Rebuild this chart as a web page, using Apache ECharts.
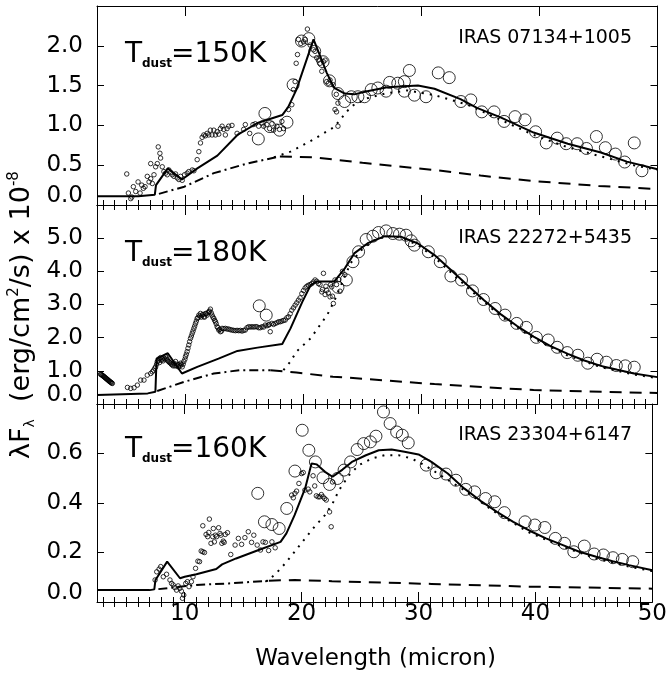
<!DOCTYPE html>
<html><head><meta charset="utf-8">
<script src="https://cdn.jsdelivr.net/npm/echarts@6/dist/echarts.min.js"></script>
<style>html,body{margin:0;padding:0;background:#fff}#c{width:670px;height:677px}</style>
</head><body><div id="c"></div>
<script>
// ---------- axis ticks ----------
const majorX = [10, 20, 30, 40, 50];
const minorX = [3,4,5,6,7,8,9,11,12,13,14,15,16,17,18,19,21,22,23,24,25,26,27,28,29,31,32,33,34,35,36,37,38,39,41,42,43,44,45,46,47,48,49];
const panelTitles = ['150K', '180K', '160K'];
const panelNames = ['IRAS 07134+1005', 'IRAS 22272+5435', 'IRAS 23304+6147'];
const yMax = [2.5, 6, 0.8];
const yStep = [0.5, 1, 0.2];

// ---------- panel 1 : IRAS 07134+1005 ----------
const p1Small = [[5.02,0.39],[5.16,0.15],[5.36,0.08],[5.45,0.10],[5.58,0.23],[5.78,0.17],[5.98,0.29],[6.15,0.15],[6.29,0.25],[6.43,0.21],[6.57,0.23],[6.76,0.36],[6.91,0.29],[7.05,0.33],[7.05,0.52],[7.19,0.27],[7.33,0.38],[7.47,0.48],[7.61,0.52],[7.69,0.73],[7.83,0.65],[7.89,0.59],[8.03,0.48],[8.17,0.42],[8.31,0.40],[8.45,0.38],[8.59,0.44],[8.74,0.41],[8.88,0.38],[9.02,0.36],[9.16,0.39],[9.30,0.34],[9.44,0.32],[9.58,0.36],[9.72,0.31],[9.92,0.38],[10.14,0.40],[10.28,0.42],[10.57,0.44],[10.71,0.43],[10.99,0.57],[11.13,0.67],[11.27,0.78],[11.41,0.85],[11.55,0.88],[11.69,0.87],[11.83,0.90],[11.97,0.88],[12.11,0.94],[12.25,0.88],[12.40,0.94],[12.54,0.88],[12.68,0.92],[12.82,0.89],[12.96,0.96],[13.10,0.99],[13.24,0.95],[13.38,0.88],[13.52,0.96],[13.66,0.99],[13.94,1.00],[14.37,0.90],[14.93,0.95],[15.07,1.01],[15.44,0.90],[15.72,1.01],[15.91,1.02],[16.20,0.99],[16.48,1.03],[16.62,0.99],[16.90,1.01],[17.13,0.96],[17.32,1.02],[17.46,0.94],[17.75,0.99],[17.97,0.95],[18.17,1.05],[18.31,0.96],[18.73,1.20],[19.01,1.26],[19.15,1.45],[19.29,1.55],[19.38,1.78],[19.49,1.89],[19.57,2.08],[19.77,2.03],[20.00,2.05],[20.14,2.08],[20.33,2.21],[20.56,2.01],[20.84,1.95],[20.98,1.93],[21.12,1.85],[21.26,1.82],[21.41,1.78],[21.55,1.68],[21.69,1.80],[21.83,1.82],[21.97,1.55],[22.11,1.53],[22.25,1.57],[22.53,1.51],[22.67,1.20],[22.78,1.39],[22.92,1.28],[22.80,1.17],[22.92,0.99]];
const p1Big = [[16.17,0.83],[16.73,1.15],[17.15,0.985],[17.97,0.94],[18.6,1.04],[19.12,1.51],[19.83,2.06],[20.45,2.09],[20.95,1.93],[21.66,1.80],[22.2,1.56],[22.92,1.40],[23.48,1.30],[24.05,1.36],[24.61,1.36],[25.17,1.36],[25.74,1.45],[26.3,1.47],[27.0,1.43],[27.3,1.54],[27.99,1.53],[28.55,1.55],[28.55,1.43],[28.97,1.69],[29.4,1.38],[30.38,1.36],[31.42,1.66],[32.35,1.60],[33.34,1.30],[34.18,1.32],[35.11,1.17],[36.15,1.17],[37.0,1.05],[37.93,1.11],[38.77,1.07],[39.67,0.92],[40.57,0.78],[41.5,0.84],[42.26,0.77],[43.19,0.77],[43.98,0.71],[44.82,0.86],[45.58,0.72],[46.43,0.64],[47.22,0.54],[48.03,0.78],[48.68,0.43]];
const p1Model = [[2.5,0.11],[6.0,0.11],[7.4,0.13],[7.5,0.25],[8.5,0.46],[9.7,0.32],[11.0,0.46],[12.7,0.62],[14.4,0.88],[16.1,1.03],[18.2,1.13],[18.7,1.23],[19.4,1.45],[20.85,2.08],[21.55,1.82],[21.97,1.66],[22.6,1.47],[23.5,1.40],[24.3,1.39],[25.4,1.43],[27.1,1.48],[29.7,1.50],[31.1,1.46],[33.3,1.33],[34.7,1.22],[36.7,1.10],[39.5,0.91],[42.4,0.77],[45.2,0.66],[47.4,0.545],[50,0.45]];
const p1Dust = [[17.5,0.60],[18.9,0.67],[20.8,0.82],[22.6,0.98],[24.05,1.24],[25.4,1.34],[26.9,1.40],[28.8,1.44],[31.1,1.38],[33.9,1.26],[36.7,1.07],[39.5,0.88],[42.3,0.73],[45.2,0.61],[48,0.50],[50,0.44]];
const p1Inner = [[7.75,0.14],[9.9,0.23],[12.4,0.40],[15.2,0.52],[18.0,0.61]];
const p1Outer = [[18.0,0.61],[20.8,0.60],[22.6,0.57],[25,0.53],[31.1,0.44],[35,0.37],[39.5,0.30],[45,0.24],[50,0.20]];

// ---------- panel 2 : IRAS 22272+5435 ----------
const p2Small = [[2.80,0.90],[2.85,0.89],[2.90,0.88],[2.95,0.86],[3.00,0.85],[3.05,0.84],[3.10,0.82],[3.15,0.81],[3.20,0.79],[3.25,0.78],[3.30,0.76],[3.35,0.75],[3.40,0.73],[3.45,0.72],[3.50,0.70],[3.55,0.69],[3.60,0.67],[3.65,0.66],[3.70,0.65],[3.75,0.63],[3.80,0.62],
[5.08,0.50],[5.36,0.47],[5.64,0.49],[5.92,0.57],[6.20,0.72],[6.48,0.72],[6.76,0.87],[7.05,0.92],[7.19,0.97],[7.3,1.02],[7.4,1.08],[7.47,1.12],[7.55,1.2],[7.61,1.28],[7.7,1.3],[7.75,1.36],[7.8,1.25],[7.89,1.40],[7.95,1.32],[8.03,1.36],[8.1,1.3],[8.17,1.38],[8.25,1.35],[8.31,1.43],[8.4,1.38],[8.45,1.33],[8.5,1.3],[8.59,1.28],[8.65,1.25],[8.74,1.23],[8.8,1.2],[8.88,1.18],[8.95,1.15],[9.02,1.23],[9.1,1.15],[9.16,1.28],[9.25,1.15],[9.30,1.20],[9.4,1.12],[9.44,1.18],[9.55,1.15],[9.58,1.23],[9.65,1.2],[9.72,1.12],[9.8,1.2],[9.86,1.28],[9.95,1.35],
[10.0,1.43],[10.07,1.5],[10.14,1.58],[10.21,1.68],[10.28,1.78],[10.35,1.88],[10.42,1.98],[10.5,2.05],[10.57,2.13],[10.64,2.2],[10.71,2.28],[10.78,2.35],[10.85,2.43],[10.92,2.5],[10.99,2.58],[11.06,2.6],[11.13,2.68],[11.2,2.65],[11.27,2.73],[11.34,2.62],[11.41,2.68],[11.48,2.7],[11.55,2.63],[11.62,2.62],[11.69,2.73],[11.76,2.72],[11.83,2.68],[11.9,2.75],[11.97,2.78],[12.04,2.8],[12.11,2.86],[12.18,2.75],[12.25,2.68],[12.32,2.62],[12.4,2.58],[12.47,2.52],[12.54,2.48],[12.6,2.42],[12.68,2.33],[12.75,2.3],[12.82,2.23],[12.9,2.25],[12.96,2.18],[13.05,2.2],[13.1,2.28],
[13.24,2.27],[13.38,2.28],[13.52,2.26],[13.66,2.26],[13.8,2.24],[13.94,2.23],[14.08,2.22],[14.23,2.21],[14.37,2.22],[14.51,2.21],[14.65,2.22],[14.79,2.20],[14.93,2.22],[15.07,2.23],[15.21,2.3],[15.35,2.33],[15.49,2.32],[15.63,2.33],[15.77,2.32],[15.91,2.33],[16.05,2.33],[16.2,2.30],[16.34,2.3],[16.48,2.33],[16.62,2.32],[16.76,2.38],[16.9,2.36],[17.04,2.38],[17.1,2.4],[17.18,2.18],[17.32,2.43],[17.46,2.4],[17.6,2.43],[17.75,2.45],[17.89,2.48],[18.03,2.48],[18.17,2.50],[18.31,2.52],[18.45,2.53],[18.59,2.6],[18.73,2.63],[18.87,2.72],[19.01,2.83],[19.15,2.9],[19.29,2.98],[19.43,3.05],[19.57,3.13],[19.71,3.2],[19.86,3.33],[20.0,3.42],[20.14,3.50],[20.28,3.55],[20.42,3.58],[20.56,3.6],[20.70,3.63],[20.84,3.68],[20.98,3.74],[21.12,3.7],[21.26,3.63],[21.4,3.6],[21.55,3.38],[21.6,3.45],[21.69,3.94],[21.83,3.30],[21.9,3.55],[21.97,3.43],[22.1,3.35],[22.25,3.23],[22.3,3.6],[22.39,3.53],[22.45,3.25],[22.53,3.03],[22.67,3.74],[22.8,3.6],[23.0,3.75],[23.1,3.4],[23.3,4.0],[23.5,3.9]];
const p2Big = [[16.25,2.96],[16.84,2.68],[22.92,3.52],[23.63,3.74],[24.19,4.29],[24.67,4.59],[25.31,4.96],[25.88,5.06],[26.36,5.17],[27.0,5.22],[27.57,5.14],[28.13,5.12],[28.69,5.09],[29.12,4.92],[29.4,4.79],[30.58,4.59],[31.59,4.29],[32.49,3.86],[33.39,3.74],[34.32,3.41],[35.25,3.15],[36.24,2.88],[37.08,2.68],[38.07,2.43],[38.88,2.31],[39.73,2.01],[40.74,1.93],[41.5,1.71],[42.35,1.55],[43.25,1.47],[44.09,1.23],[44.88,1.35],[45.67,1.26],[46.51,1.16],[47.27,1.15],[48.03,1.11]];
const p2Model = [[2.5,0.27],[6.8,0.32],[7.45,0.37],[7.55,1.37],[8.5,1.53],[9.7,0.92],[11.0,1.12],[12.8,1.37],[14.4,1.60],[16.1,1.70],[18.2,1.81],[18.9,2.28],[19.9,3.08],[20.6,3.58],[21.1,3.69],[22.6,3.69],[23.5,4.09],[24.3,4.54],[25.5,4.86],[26.9,5.06],[28.3,5.04],[29.7,4.84],[31.1,4.49],[32.5,4.04],[33.9,3.58],[35.3,3.13],[36.7,2.71],[38.1,2.35],[39.5,2.03],[40.9,1.75],[42.4,1.51],[43.8,1.31],[45.2,1.15],[46.6,1.03],[48,0.92],[50,0.81]];
const p2Dust = [[18.3,1.02],[18.9,1.28],[19.4,1.58],[20.6,1.98],[21.4,2.38],[22.0,2.68],[22.6,3.1],[23.2,3.6],[24.0,4.25],[24.9,4.64],[26.0,4.94],[27.1,5.06],[28.3,5.02],[29.7,4.79],[31.1,4.42],[33.9,3.51],[36.7,2.65],[39.5,1.98],[42.35,1.47],[45.2,1.11],[48,0.89],[50,0.78]];
const p2Inner = [[7.6,0.39],[9.9,0.67],[12.4,0.92],[14.6,1.02],[17.2,1.02]];
const p2Outer = [[17.2,1.02],[19.4,0.95],[22.5,0.82],[23.5,0.80],[27.3,0.70],[31.1,0.60],[39.5,0.42],[50,0.33]];

// ---------- panel 3 : IRAS 23304+6147 ----------
const p3Small = [[7.47,0.089],[7.61,0.122],[7.81,0.133],[7.95,0.143],[8.17,0.102],[8.45,0.112],[8.74,0.089],[8.88,0.075],[9.02,0.069],[9.16,0.058],[9.30,0.048],[9.44,0.065],[9.58,0.055],[9.72,0.044],[9.81,0.015],[9.92,0.028],[10.09,0.075],[10.23,0.082],[10.37,0.062],[10.57,0.082],[10.71,0.102],[10.93,0.136],[11.13,0.165],[11.27,0.163],[11.41,0.206],[11.55,0.203],[11.69,0.200],[11.55,0.308],[11.83,0.273],[11.97,0.264],[12.06,0.281],[12.11,0.335],[12.25,0.237],[12.40,0.264],[12.45,0.297],[12.54,0.243],[12.62,0.270],[12.73,0.264],[12.90,0.300],[13.02,0.277],[13.10,0.270],[13.18,0.237],[13.30,0.246],[13.38,0.241],[13.47,0.273],[13.66,0.280],[13.94,0.192],[14.31,0.230],[14.59,0.257],[14.87,0.233],[15.15,0.260],[15.44,0.284],[15.72,0.241],[15.91,0.270],[16.2,0.230],[16.48,0.210],[16.7,0.243],[16.9,0.241],[17.18,0.208],[17.46,0.243],[17.74,0.219],[19.15,0.432],[19.29,0.421],[19.43,0.439],[19.57,0.448],[19.77,0.479],[20.0,0.519],[20.14,0.523],[20.28,0.452],[20.56,0.456],[20.70,0.445],[20.98,0.510],[21.12,0.469],[21.26,0.429],[21.41,0.425],[21.55,0.425],[21.69,0.434],[21.83,0.425],[21.97,0.418],[22.11,0.412],[22.39,0.364],[22.53,0.304],[22.64,0.485]];
const p3Big = [[16.25,0.439],[16.82,0.324],[17.46,0.313],[18.08,0.297],[18.73,0.378],[19.43,0.529],[20.05,0.694],[20.62,0.613],[21.18,0.566],[21.83,0.502],[22.39,0.475],[23.06,0.499],[23.63,0.533],[24.19,0.566],[24.75,0.616],[25.31,0.640],[25.88,0.647],[26.36,0.670],[27.0,0.768],[27.57,0.721],[28.13,0.687],[28.61,0.674],[29.12,0.643],[30.66,0.553],[31.51,0.522],[32.35,0.517],[33.2,0.492],[34.04,0.455],[34.8,0.445],[35.73,0.418],[36.52,0.405],[37.34,0.361],[39.11,0.324],[39.95,0.311],[40.8,0.301],[41.7,0.257],[42.49,0.237],[43.28,0.203],[44.18,0.226],[45.02,0.194],[45.81,0.190],[46.63,0.179],[47.43,0.172],[48.32,0.163]];
const p3Model = [[2.5,0.048],[7.0,0.048],[7.4,0.051],[7.5,0.089],[8.5,0.163],[9.6,0.096],[10.0,0.102],[11.0,0.112],[12.7,0.133],[13.2,0.152],[14.4,0.176],[16.1,0.206],[18.2,0.243],[18.7,0.277],[19.4,0.351],[20.3,0.459],[20.85,0.560],[21.3,0.556],[22.0,0.526],[22.65,0.506],[23.5,0.535],[24.3,0.566],[25.5,0.593],[26.6,0.613],[27.7,0.616],[28.8,0.607],[30.0,0.596],[31.1,0.566],[32.5,0.519],[33.9,0.459],[35.3,0.409],[36.7,0.364],[38.1,0.324],[39.5,0.288],[40.9,0.257],[42.35,0.230],[43.75,0.203],[45.2,0.183],[46.6,0.165],[48,0.149],[50,0.128]];
const p3Dust = [[16.9,0.082],[17.7,0.109],[18.6,0.156],[19.4,0.203],[20.3,0.257],[21.1,0.304],[22.0,0.351],[22.65,0.398],[23.2,0.452],[24.05,0.512],[24.9,0.553],[26.0,0.580],[27.1,0.593],[28.3,0.593],[29.4,0.580],[30.5,0.553],[31.65,0.519],[33.9,0.452],[36.7,0.358],[39.5,0.280],[42.35,0.223],[45.2,0.176],[48,0.143],[50,0.125]];
const p3Inner = [[7.75,0.052],[11.0,0.069],[13.8,0.075],[17.2,0.086]];
const p3Outer = [[17.2,0.086],[19.4,0.089],[22.6,0.084],[31.1,0.073],[39.5,0.062],[50,0.054]];

const panels = [
  {small:p1Small, big:p1Big, model:p1Model, dust:p1Dust, inner:p1Inner, outer:p1Outer},
  {small:p2Small, big:p2Big, model:p2Model, dust:p2Dust, inner:p2Inner, outer:p2Outer},
  {small:p3Small, big:p3Big, model:p3Model, dust:p3Dust, inner:p3Inner, outer:p3Outer}
];

// ---------- layout ----------
const FONT = 'DejaVu Sans';
const gridTops = [6, 205, 404];
const gridHeights = [199, 199, 198];
const grids = gridTops.map((t, i) => ({left: 97, width: 560.5, top: t, height: gridHeights[i]}));

const xAxes = [], yAxes = [], series = [];
const blackLine = {color: '#000', width: 1};
grids.forEach((g, gi) => {
  ['bottom', 'top'].forEach(pos => {
    xAxes.push({gridIndex: gi, type: 'value', min: 2.5, max: 50, position: pos,
      axisLine: {show: true, onZero: false, lineStyle: blackLine},
      axisTick: {show: true, inside: true, length: 10, customValues: majorX, lineStyle: blackLine},
      axisLabel: {show: gi === 2 && pos === 'bottom', customValues: majorX, color: '#000', fontFamily: FONT, fontSize: 23, margin: 1},
      splitLine: {show: false}});
    xAxes.push({gridIndex: gi, type: 'value', min: 2.5, max: 50, position: pos,
      axisLine: {show: false},
      axisTick: {show: true, inside: true, length: 5, customValues: minorX, lineStyle: blackLine},
      axisLabel: {show: false}, splitLine: {show: false}});
  });
  ['left', 'right'].forEach(pos => {
    yAxes.push({gridIndex: gi, type: 'value', min: 0, max: yMax[gi], interval: yStep[gi], position: pos,
      axisLine: {show: true, onZero: false, lineStyle: blackLine},
      axisTick: {show: true, inside: true, length: 7, lineStyle: blackLine},
      axisLabel: {show: pos === 'left', showMaxLabel: false, color: '#000', fontFamily: FONT, fontSize: 23, margin: 14,
        formatter: v => v === 0 ? '{z|0.0}' : v.toFixed(1),
        rich: {z: {fontFamily: FONT, fontSize: 23, color: '#000', padding: [0, 0, 18, 0]}}},
      splitLine: {show: false}});
  });
});

panels.forEach((p, gi) => {
  const xi = gi * 4, yi = gi * 2;
  const circ = {color: 'rgba(0,0,0,0)', borderColor: '#000', borderWidth: 1};
  series.push({type: 'scatter', xAxisIndex: xi, yAxisIndex: yi, data: p.small, symbol: 'circle', symbolSize: 4.5, itemStyle: circ, silent: true});
  series.push({type: 'scatter', xAxisIndex: xi, yAxisIndex: yi, data: p.big, symbol: 'circle', symbolSize: 12, itemStyle: circ, silent: true});
  const ln = (data, type) => ({type: 'line', xAxisIndex: xi, yAxisIndex: yi, data, showSymbol: false, symbol: 'none', silent: true,
    lineStyle: {color: '#000', width: 2, type}});
  series.push(ln(p.inner, [9, 4, 2, 4]));
  series.push(ln(p.outer, [12, 8]));
  series.push(ln(p.dust, [2, 6]));
  series.push(ln(p.model, 'solid'));
});

// ---------- text ----------
const graphic = [];
const tCenters = [55, 254, 450];
tCenters.forEach((cy, i) => {
  graphic.push({type: 'text', x: 125, y: cy, style: {text: 'T', fontFamily: FONT, fontSize: 28, fill: '#000', textAlign: 'left', textVerticalAlign: 'middle'}});
  graphic.push({type: 'text', x: 142, y: cy + 9, style: {text: 'dust', fontFamily: FONT, fontSize: 12, fontWeight: 'bold', fill: '#000', textAlign: 'left', textVerticalAlign: 'middle'}});
  graphic.push({type: 'text', x: 171, y: cy, style: {text: '=' + panelTitles[i], fontFamily: FONT, fontSize: 28, fill: '#000', textAlign: 'left', textVerticalAlign: 'middle'}});
});
const nCenters = [38.5, 238, 435];
nCenters.forEach((cy, i) => {
  graphic.push({type: 'text', x: 632, y: cy, style: {text: panelNames[i], fontFamily: FONT, fontSize: 19, fill: '#000', textAlign: 'right', textVerticalAlign: 'middle'}});
});
graphic.push({type: 'text', x: 375.5, y: 659, style: {text: 'Wavelength (micron)', fontFamily: FONT, fontSize: 23, fill: '#000', textAlign: 'center', textVerticalAlign: 'middle'}});
graphic.push({type: 'text', x: 22, y: 315, rotation: Math.PI / 2,
  style: {text: '{a|λF}{s|λ}{a|  (erg/cm}{p|2}{a|/s) x 10}{p|-8}', textAlign: 'center', textVerticalAlign: 'middle',
    rich: {
      a: {fontFamily: FONT, fontSize: 27, lineHeight: 30, fill: '#000'},
      s: {fontFamily: FONT, fontSize: 14, lineHeight: 12, verticalAlign: 'bottom', fill: '#000'},
      p: {fontFamily: FONT, fontSize: 15, lineHeight: 14, verticalAlign: 'top', fill: '#000'}
    }}});

const chart = echarts.init(document.getElementById('c'), null, {renderer: 'canvas'});
chart.setOption({
  animation: false,
  backgroundColor: '#fff',
  grid: grids,
  xAxis: xAxes,
  yAxis: yAxes,
  series,
  graphic
});
</script></body></html>
